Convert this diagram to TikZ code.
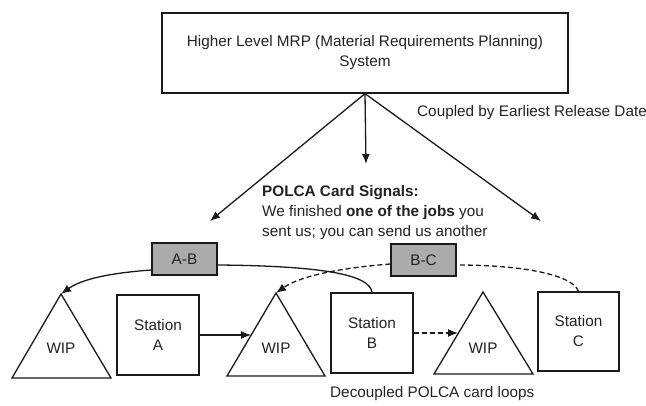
\documentclass[tikz,border=0pt]{standalone}
\usepackage{fontspec}
\setmainfont{Liberation Sans}
\usetikzlibrary{arrows.meta}
\definecolor{ink}{HTML}{1A1A1A}
\definecolor{txt}{HTML}{222222}
\definecolor{cardgray}{HTML}{ABABAB}
\begin{document}
\begin{tikzpicture}[x=1pt,y=-1pt,
  every node/.style={font=\fontsize{15.3}{20}\selectfont, text=txt},
  box/.style={draw=ink, fill=white, line width=1.3pt, inner sep=0pt, align=center},
  card/.style={draw=ink, fill=cardgray, line width=1.3pt, inner sep=0pt,
    minimum width=65pt, minimum height=32pt},
  tri/.style={draw=ink, fill=white, line width=1.3pt, line join=miter},
  link/.style={draw=ink, line width=1.3pt},
  tip/.style={-{Latex[length=10pt,width=8pt]}},
  cardloop/.style={dash pattern=on 5pt off 3pt},
]
\useasboundingbox (0,0) rectangle (646,406);

% planning system on top
\node[box, minimum width=406pt, minimum height=80pt] (mrp) at (365,53)
  {Higher Level MRP (Material Requirements Planning)\\System};
\node[anchor=west, inner sep=0pt] (coupled) at (417,113) {Coupled by Earliest Release Date};

% release signals
\coordinate (relL) at (210,221);
\coordinate (relM) at (366,164);
\coordinate (relR) at (541,221);
\draw[link, tip] (mrp.south) -- (relL);
\draw[link, tip] (mrp.south) -- (relM);
\draw[link, tip] (mrp.south) -- (relR);

\node[anchor=north west, align=left, inner sep=0pt] (signal) at (262,185)
  {\textbf{POLCA Card Signals:}\\We finished \textbf{one of the jobs} you\\sent us; you can send us another};

% WIP buffers (triangles)
\coordinate (w1a) at (61,294);  \coordinate (w1l) at (12,378);  \coordinate (w1r) at (111,378);
\coordinate (w2a) at (276,293); \coordinate (w2l) at (227,376); \coordinate (w2r) at (325,376);
\coordinate (w3a) at (483,292); \coordinate (w3l) at (434,374); \coordinate (w3r) at (533,374);
\draw[tri] (w1a) -- (w1l) -- (w1r) -- cycle;
\draw[tri] (w2a) -- (w2l) -- (w2r) -- cycle;
\draw[tri] (w3a) -- (w3l) -- (w3r) -- cycle;
\node (wip1) at (61,348) {WIP};
\node (wip2) at (276,348) {WIP};
\node (wip3) at (483,348) {WIP};

% stations
\node[box, minimum width=82pt, minimum height=80pt] (stA) at (158,335) {Station\\A};
\node[box, minimum width=82pt, minimum height=80pt] (stB) at (372,333) {Station\\B};
\node[box, minimum width=81pt, minimum height=79pt] (stC) at (578.5,331.5) {Station\\C};

% material flow
\coordinate (w2hit) at (251,335);
\coordinate (w3hit) at (458,333);
\draw[link, tip] (stA.east) -- (w2hit);
\draw[link, tip, cardloop] (stB.east) -- (w3hit);

% POLCA cards
\node[card] (ab) at (184.5,259) {A-B};
\node[card] (bc) at (423.5,260) {B-C};

% A-B loop (solid)
\draw[link] (stB.north) .. controls (370,276) and (330,266) .. ([yshift=-6pt]ab.east);
\draw[link, tip] ([yshift=-11pt]ab.west) .. controls (110,273) and (82,279) .. (w1a);

% B-C loop (dashed)
\draw[link, cardloop] (stC.north) .. controls (572,274) and (520,265) .. ([yshift=-5pt]bc.east);
\draw[link, cardloop, tip] ([yshift=-4pt]bc.west) .. controls (340,268) and (300,276) .. (w2a);

\node[anchor=west, inner sep=0pt] (loops) at (330,394) {Decoupled POLCA card loops};
\end{tikzpicture}
\end{document}
